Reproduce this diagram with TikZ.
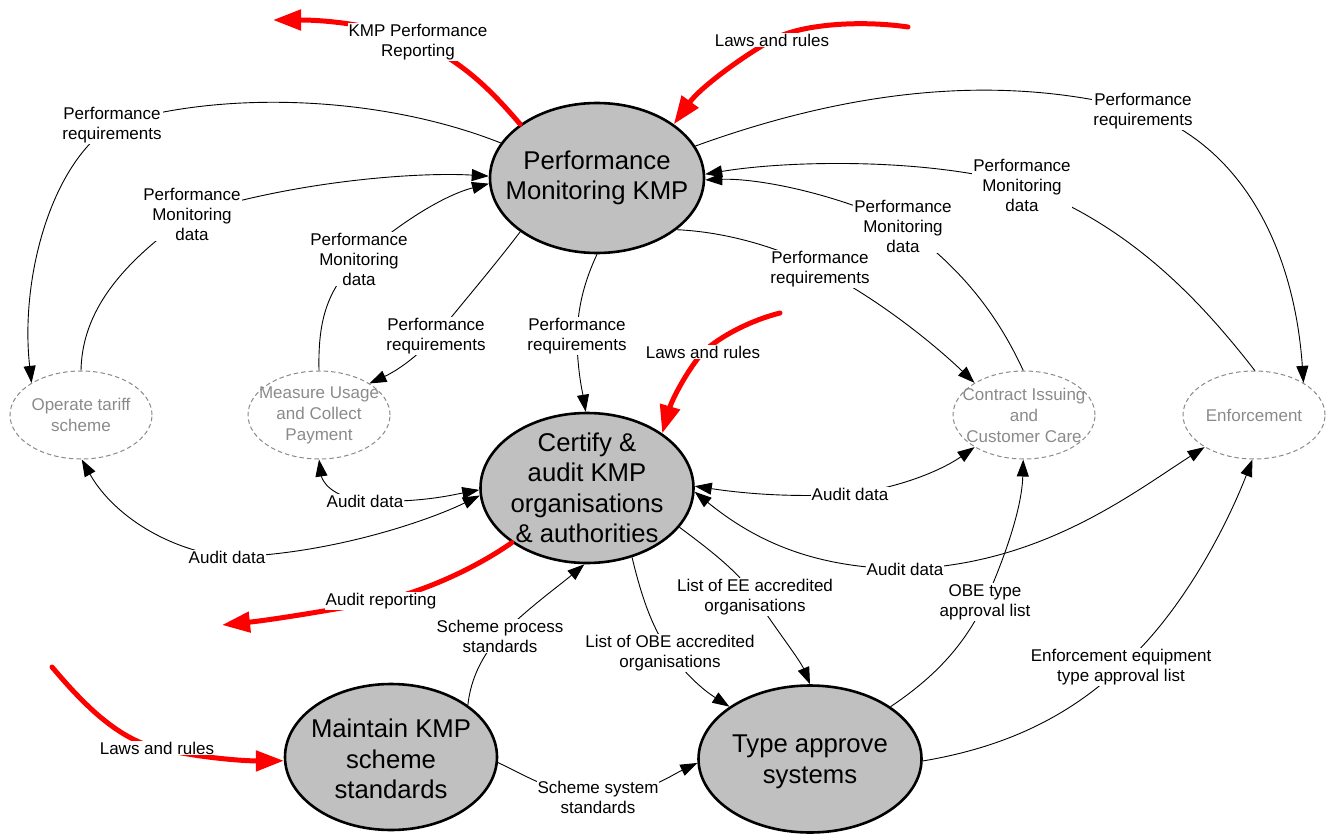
\documentclass[tikz,border=0pt]{standalone}
\usepackage{fontspec}
\setmainfont{Liberation Sans}
\usetikzlibrary{arrows.meta,shapes.geometric}
\definecolor{ellgray}{HTML}{C0C0C0}
\definecolor{dgray}{HTML}{8A8A8A}
\definecolor{redline}{HTML}{FF0000}
\newcommand{\lblfont}{\fontsize{17}{20}\selectfont}
\newcommand{\mainfont}{\fontsize{25.7}{30.5}\selectfont}
\newcommand{\dashfont}{\fontsize{17}{21}\selectfont}
\begin{document}
\begin{tikzpicture}[x=1pt,y=-1pt,
  mainell/.style={ellipse, draw=black, line width=2.6pt, fill=ellgray, inner sep=0pt},
  dashell/.style={ellipse, draw=dgray, dash pattern=on 4.5pt off 3pt, line width=1pt, inner sep=0pt,
    minimum width=142pt, minimum height=88pt},
  maintxt/.style={align=center, font=\mainfont, inner sep=0pt},
  dashtxt/.style={align=center, text=dgray, font=\dashfont, inner sep=0pt},
  lbl/.style={fill=white, inner sep=1pt, align=center, font=\lblfont},
  conn/.style={line width=0.9pt, -{Triangle[length=17pt,width=12pt]}},
  biconn/.style={line width=0.9pt, {Triangle[length=17pt,width=12pt]}-{Triangle[length=17pt,width=12pt]}},
  redarr/.style={draw=redline, line width=5pt, line cap=round, -{Triangle[length=28pt,width=20pt]}}
]
\useasboundingbox (0,0) rectangle (1329,834);

% main processes
\node[mainell, minimum width=214pt, minimum height=150pt] (PM) at (597,178) {};
\node[maintxt] (PMt) at (PM.center) {Performance\\Monitoring KMP};
\node[mainell, minimum width=213pt, minimum height=150pt] (CA) at (587,488) {};
\node[maintxt] (CAt) at (CA.center) {Certify \&\\audit KMP\\organisations\\\& authorities};
\node[mainell, minimum width=212pt, minimum height=146pt] (MS) at (391,757) {};
\node[maintxt] (MSt) at (391,759) {Maintain KMP\\scheme\\standards};
\node[mainell, minimum width=223pt, minimum height=147pt] (TA) at (810,759) {};
\node[maintxt] (TAt) at (810,762) {Type approve\\systems};

% external (dashed) processes
\node[dashell] (OT) at (81,415) {};
\node[dashtxt] (OTt) at (OT.center) {Operate tariff\\scheme};
\node[dashell] (MU) at (319,415) {};
\node[dashell] (CI) at (1024,415) {};
\node[dashell] (EN) at (1254,415) {};
\node[dashtxt] (ENt) at (EN.center) {Enforcement};

% free ends of the red flows
\coordinate (kmpTip) at (273,20);
\coordinate (lawsTopStart) at (908,27);
\coordinate (lawsMidStart) at (780,313);
\coordinate (auditTip) at (222,625);
\coordinate (lawsLowStart) at (52,667);

% black connectors
\draw[conn] (PM.160) .. controls (380,95) and (220,90) .. (112,125) node[lbl]{Performance\\requirements}
  .. controls (50,165) and (20,280) .. (OT.147);
\draw[conn] (OT.90) .. controls (82,320) and (110,270) .. (192,214) node[lbl]{Performance\\Monitoring\\data}
  .. controls (300,180) and (420,172) .. (PM.179);
\draw[conn] (MU.90) .. controls (318,325) and (325,290) .. (359,259) node[lbl]{Performance\\Monitoring\\data}
  .. controls (400,222) and (445,195) .. (PM.183);
\draw[conn] (PM.215) .. controls (495,265) and (465,300) .. (436,336) node[lbl]{Performance\\requirements}
  .. controls (412,362) and (392,373) .. (MU.32);
\draw[conn] (PM.270) .. controls (585,280) and (578,305) .. (577,336) node[lbl]{Performance\\requirements}
  .. controls (577,370) and (583,395) .. (CA.91);
\draw[conn] (PM.-33) .. controls (730,232) and (785,250) .. (820,269) node[lbl]{Performance\\requirements}
  .. controls (880,300) and (935,345) .. (CI.147);
\draw[conn] (CI.91) .. controls (1000,320) and (965,270) .. (903,226) node[lbl]{Performance\\Monitoring\\data}
  .. controls (840,195) and (760,178) .. (PM.-1);
\draw[conn] (EN.89) .. controls (1200,300) and (1130,225) .. (1022,185) node[lbl]{Performance\\Monitoring\\data}
  .. controls (930,158) and (790,160) .. (PM.2);
\draw[conn] (PM.18) .. controls (850,90) and (1000,72) .. (1143,111) node[lbl]{Performance\\requirements}
  .. controls (1250,150) and (1295,260) .. (EN.33);

\draw[biconn] (OT.-89) .. controls (110,510) and (160,548) .. (227,557) node[lbl]{Audit data}
  .. controls (330,555) and (430,520) .. (CA.184);
\draw[biconn] (MU.-90) .. controls (322,480) and (330,497) .. (365,501) node[lbl]{Audit data}
  .. controls (420,503) and (452,495) .. (CA.181);
\draw[biconn] (CA.1) .. controls (740,493) and (790,498) .. (850,494) node[lbl]{Audit data}
  .. controls (905,487) and (945,468) .. (CI.213);
\draw[biconn] (CA.-2) .. controls (760,545) and (820,568) .. (905,569) node[lbl]{Audit data}
  .. controls (1040,565) and (1130,495) .. (EN.213);

\draw[conn] (CA.-23) .. controls (710,550) and (740,573) .. (755,597) node[lbl]{List of EE accredited\\organisations}
  .. controls (775,628) and (800,660) .. (TA.90);
\draw[conn] (CA.-57) .. controls (640,590) and (650,625) .. (670,653) node[lbl]{List of OBE accredited\\organisations}
  .. controls (690,680) and (708,693) .. (TA.147);
\draw[conn] (MS.34) .. controls (470,685) and (478,660) .. (500,636) node[lbl]{Scheme process\\standards}
  .. controls (528,608) and (560,585) .. (CA.-92);
\draw[conn] (MS.-3) .. controls (525,775) and (555,795) .. (598,797) node[lbl]{Scheme system\\standards}
  .. controls (640,797) and (672,775) .. (TA.182);
\draw[conn] (TA.33) .. controls (930,680) and (962,650) .. (985,602) node[lbl]{OBE type\\approval list}
  .. controls (1008,550) and (1022,505) .. (CI.-91);
\draw[conn] (TA.-1) .. controls (1000,748) and (1065,720) .. (1121,667) node[lbl]{Enforcement equipment\\type approval list}
  .. controls (1180,615) and (1225,530) .. (EN.-92);

% red flows
\draw[redarr] (PM.145) .. controls (495,95) and (465,62) .. (418,42) node[lbl]{KMP Performance\\Reporting}
  .. controls (380,26) and (330,20) .. (kmpTip);
\draw[redarr] (lawsTopStart) .. controls (860,20) and (800,24) .. (772,40) node[lbl]{Laws and rules}
  .. controls (740,58) and (700,88) .. (PM.35);
\draw[redarr] (lawsMidStart) .. controls (752,320) and (722,335) .. (703,352) node[lbl]{Laws and rules}
  .. controls (686,372) and (672,400) .. (CA.36);
\draw[redarr] (CA.216) .. controls (480,565) and (430,590) .. (381,601) node[lbl]{Audit reporting}
  .. controls (320,612) and (270,620) .. (auditTip);
\draw[redarr] (lawsLowStart) .. controls (80,700) and (115,738) .. (157,748) node[lbl]{Laws and rules}
  .. controls (200,758) and (245,761) .. (MS.182);

% texts of the dashed processes, on top of the borders
\node[dashtxt] (MUt) at (MU.center) {Measure Usage\\and Collect\\Payment};
\node[dashtxt] (CIt) at (CI.center) {Contract Issuing\\and\\Customer Care};
\end{tikzpicture}
\end{document}
